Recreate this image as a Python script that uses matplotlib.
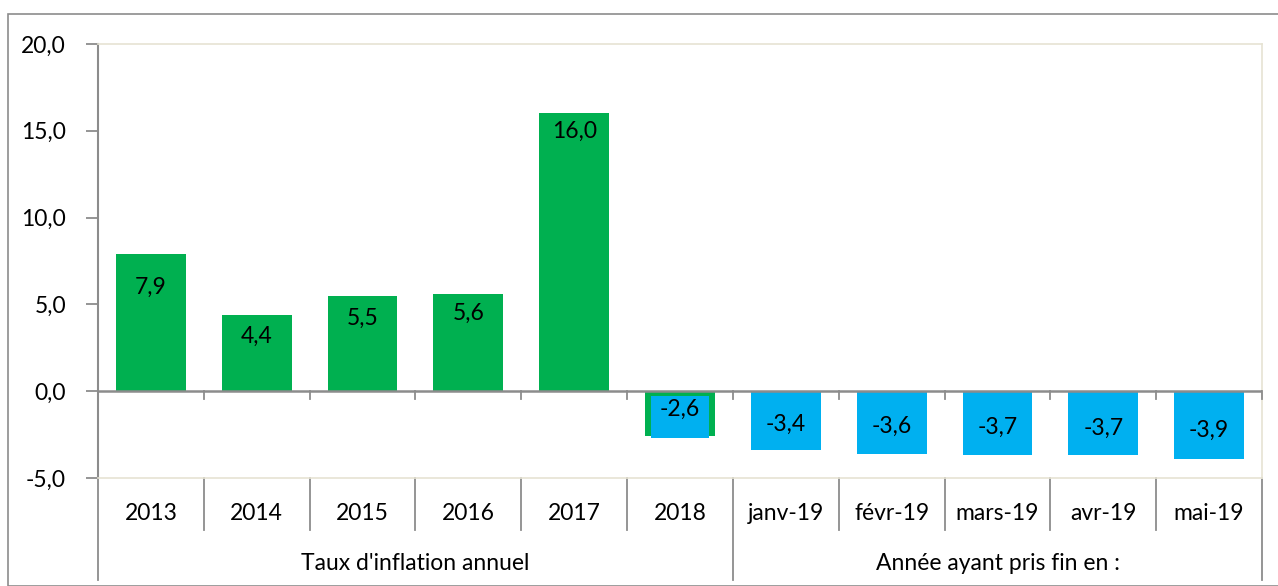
import matplotlib
matplotlib.use("Agg")
import matplotlib.pyplot as plt
from matplotlib.patches import Rectangle
from matplotlib.lines import Line2D
import matplotlib.transforms as mtransforms

categories = ["2013", "2014", "2015", "2016", "2017", "2018",
              "janv-19", "févr-19", "mars-19", "avr-19", "mai-19"]
values = [7.9, 4.4, 5.5, 5.6, 16.0, -2.6, -3.4, -3.6, -3.7, -3.7, -3.9]
labels = ["7,9", "4,4", "5,5", "5,6", "16,0", "-2,6", "-3,4", "-3,6", "-3,7", "-3,7", "-3,9"]
groups = ["Taux d'inflation annuel", "Année ayant pris fin en :"]
group_sizes = [6, 5]
yticks = [-5, 0, 5, 10, 15, 20]
ytick_labels = ["-5,0", "0,0", "5,0", "10,0", "15,0", "20,0"]

GREEN = "#00B050"
BLUE = "#00B0F0"
GRAY = "#8C8C8C"
BEIGE = "#E6E3D3"
FS = 16.5

plt.rcParams['font.family'] = ['Lato', 'DejaVu Sans']
W, H = 1278, 586
fig = plt.figure(figsize=(W / 100, H / 100), dpi=100)

# outer border
fig.patches.append(Rectangle((8 / W, 0), 1.2, 1 - 14 / H, transform=fig.transFigure,
                             fill=False, edgecolor=GRAY, linewidth=1.2))

ax = fig.add_axes([98 / W, 1 - 478 / H, (1262 - 98) / W, (478 - 44) / H])
ax.set_xlim(-0.5, len(categories) - 0.5)
ax.set_ylim(-5, 20)

bw = 0.66
for i, v in enumerate(values):
    if i < 5:
        ax.bar(i, v, width=bw, color=GREEN, zorder=2)
    elif i == 5:
        ax.bar(i, v, width=bw, color=GREEN, zorder=2)
        ax.bar(i, v + 0.2, bottom=-0.3, width=bw * 0.82, color=BLUE, zorder=3)
    else:
        ax.bar(i, v, width=bw, color=BLUE, zorder=2)

offsets = [33, 22, 23, 19, 18, 27, 26, 27, 28, 27, 29]
for i, (v, lab) in enumerate(zip(values, labels)):
    off = -offsets[i] if v > 0 else offsets[i]
    ax.annotate(lab, (i, v), xytext=(0, off), textcoords="offset pixels",
                ha="center", va="center", fontsize=FS, color="black", zorder=5)

# spines
for s in ["top", "right", "bottom"]:
    ax.spines[s].set_color(BEIGE)
    ax.spines[s].set_linewidth(1.2)
ax.spines["left"].set_color(GRAY)
ax.spines["left"].set_linewidth(1.5)

ax.set_yticks(yticks)
ax.set_yticklabels(ytick_labels, fontsize=FS)
ax.tick_params(axis="y", length=9, width=1.3, color=GRAY, pad=14)
ax.set_xticks([])

# zero axis
ax.axhline(0, color=GRAY, linewidth=1.8, zorder=4)
tr = mtransforms.blended_transform_factory(ax.transData, ax.transAxes)
tick_len = 8 / 434
zero_ax = 5 / 25
for b in range(len(categories) + 1):
    xb = b - 0.5
    ax.add_line(Line2D([xb, xb], [zero_ax, zero_ax - tick_len], transform=tr,
                       color=GRAY, linewidth=1.3, clip_on=False, zorder=4))

# category separators below axes
row1 = -52 / 434
row2 = -102 / 434
bounds = [0]
for g in group_sizes:
    bounds.append(bounds[-1] + g)
for b in range(len(categories) + 1):
    xb = b - 0.5
    yend = row2 if b in bounds else row1
    ax.add_line(Line2D([xb, xb], [0, yend], transform=tr, color=GRAY,
                       linewidth=1.3, clip_on=False))

for i, c in enumerate(categories):
    ax.text(i, -35 / 434, c, transform=tr, ha="center", va="center", fontsize=FS)

for gi, g in enumerate(groups):
    center = (bounds[gi] + bounds[gi + 1] - 1) / 2
    ax.text(center, -85 / 434, g, transform=tr, ha="center", va="center", fontsize=FS)

fig.savefig("out.png", dpi=100)
